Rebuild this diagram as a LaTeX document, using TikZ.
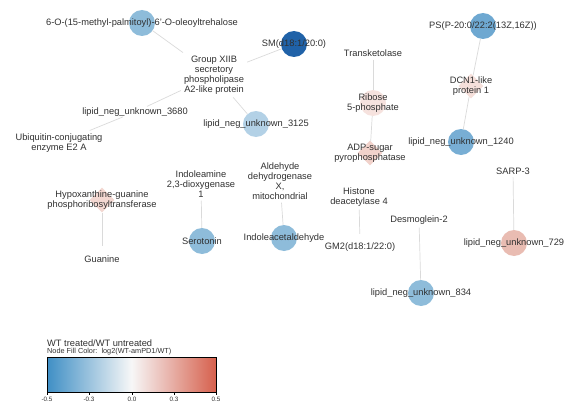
\documentclass[tikz,border=0pt]{standalone}
\usepackage{fontspec}
\setmainfont{Liberation Sans}
\usetikzlibrary{shapes.geometric}

\begin{document}
\begin{tikzpicture}[x=1pt, y=-1pt,
    font=\fontsize{9.3}{10}\selectfont,
    nameText/.style={text=textColour, align=center, inner sep=0pt},
    metabolite/.style={circle, minimum size=26pt, inner sep=0pt, fill=#1},
    ghost/.style={circle, minimum size=26pt, inner sep=0pt},
    enzyme/.style={diamond, minimum size=25pt, inner sep=0pt, fill=#1},
    gene/.style={text=textColour, align=center, inner sep=3pt},
    link/.style={draw=edgeColour, line width=0.7pt}]
    % Define colours
    \definecolor{textColour}{HTML}{303030}
    \definecolor{edgeColour}{HTML}{DADADA}
    \definecolor{blueDark}{HTML}{2062A8}
    \definecolor{blueMid}{HTML}{6EA8D1}
    \definecolor{blueSoft}{HTML}{8EBCDA}
    \definecolor{bluePale}{HTML}{B3D1E6}
    \definecolor{pinkMid}{HTML}{E9BCB2}
    \definecolor{pinkSoft}{HTML}{F1D2CB}
    \definecolor{pinkPale}{HTML}{F6E2DE}
    \definecolor{scaleLow}{HTML}{3F8FC5}
    \definecolor{scaleMid}{HTML}{F7F7F7}
    \definecolor{scaleHigh}{HTML}{D6604D}

    % Fix the canvas
    \useasboundingbox (0,0) rectangle (586,412);

    % Draw lipid cluster
    \node[metabolite=blueSoft, label={[nameText]center:6-O-(15-methyl-palmitoyl)-6'-O-oleoyltrehalose}] (trehalose) at (142,23) {};
    \node[metabolite=blueDark, label={[nameText]center:SM(d18:1/20:0)}] (smLipid) at (294,44) {};
    \node[gene] (groupXIIB) at (214,75) {Group XIIB\\secretory\\phospholipase\\A2-like protein};
    \node[ghost, label={[nameText]center:lipid\_neg\_unknown\_3680}] (lipidA) at (135,112) {};
    \node[metabolite=bluePale, label={[nameText]center:lipid\_neg\_unknown\_3125}] (lipidB) at (256,124) {};
    \node[gene] (ubiquitin) at (59,143) {Ubiquitin-conjugating\\enzyme E2 A};

    % Draw pentose cluster
    \node[gene] (transketolase) at (373,53) {Transketolase};
    \node[metabolite=pinkPale, label={[nameText]center:{Ribose\\5-phosphate}}] (ribose) at (373,103) {};
    \node[enzyme=pinkSoft, label={[nameText]center:{ADP-sugar\\pyrophosphatase}}] (adpSugar) at (370,153) {};

    % Draw PS cluster
    \node[metabolite=blueMid, label={[nameText]center:PS(P-20:0/22:2(13Z,16Z))}] (psLipid) at (483,26) {};
    \node[enzyme=pinkPale!80!pinkSoft, label={[nameText]center:{DCN1-like\\protein 1}}] (dcnOne) at (471,86) {};
    \node[metabolite=blueMid!70!blueSoft, label={[nameText]center:lipid\_neg\_unknown\_1240}] (lipidC) at (461,142) {};

    % Draw small pairs
    \node[enzyme=pinkSoft!70!pinkPale, label={[nameText]center:{Hypoxanthine-guanine\\phosphoribosyltransferase}}] (hgprt) at (102,200) {};
    \node[ghost, label={[nameText]center:Guanine}] (guanine) at (102,259) {};
    \node[gene] (indoleamine) at (201,184) {Indoleamine\\2,3-dioxygenase\\1};
    \node[metabolite=blueSoft, label={[nameText]center:Serotonin}] (serotonin) at (202,241) {};
    \node[gene] (aldehyde) at (280,181) {Aldehyde\\dehydrogenase\\X,\\mitochondrial};
    \node[metabolite=blueSoft, label={[nameText]center:Indoleacetaldehyde}] (indoleAld) at (284,238) {};
    \node[gene] (histone) at (359,197) {Histone\\deacetylase 4};
    \node[ghost, label={[nameText]center:GM2(d18:1/22:0)}] (gmTwo) at (360,247) {};
    \node[gene] (desmoglein) at (419,220) {Desmoglein-2};
    \node[metabolite=blueSoft, label={[nameText]center:lipid\_neg\_unknown\_834}] (lipidD) at (421,293) {};
    \node[gene] (sarpThree) at (513,171) {SARP-3};
    \node[metabolite=pinkMid, label={[nameText]center:lipid\_neg\_unknown\_729}] (lipidE) at (514,243) {};

    % Draw edges
    \draw[link] (trehalose) -- (groupXIIB);
    \draw[link] (smLipid) -- (groupXIIB);
    \draw[link] (groupXIIB) -- (lipidA);
    \draw[link] (lipidA) -- (ubiquitin);
    \draw[link] (groupXIIB) -- (lipidB);
    \draw[link] (transketolase) -- (ribose);
    \draw[link] (ribose) -- (adpSugar);
    \draw[link] (psLipid) -- (dcnOne);
    \draw[link] (dcnOne) -- (lipidC);
    \draw[link] (hgprt) -- (guanine);
    \draw[link] (indoleamine) -- (serotonin);
    \draw[link] (aldehyde) -- (indoleAld);
    \draw[link] (histone) -- (gmTwo);
    \draw[link] (desmoglein) -- (lipidD);
    \draw[link] (sarpThree) -- (lipidE);

    % Draw legend
    \node[nameText, anchor=west] (legendTitle) at (47,343) {WT treated/WT untreated};
    \node[nameText, anchor=west, font=\fontsize{7.3}{8}\selectfont] (legendSub) at (47,352) {Node Fill Color:\ \ log2(WT-amPD1/WT)};
    \shade[left color=scaleLow, right color=scaleHigh, middle color=scaleMid] (47,357) rectangle (216,392);
    \draw[black, line width=0.5pt] (47,357) rectangle (216,392);
    \foreach \x/\v in {47/-0.5, 89/-0.3, 132/0.0, 174/0.3, 216/0.5}
        \draw[black, line width=0.5pt] (\x,392) -- (\x,395) node[nameText, anchor=north, yshift=-2pt, font=\fontsize{6.3}{7}\selectfont] {\v};

\end{tikzpicture}
\end{document}
